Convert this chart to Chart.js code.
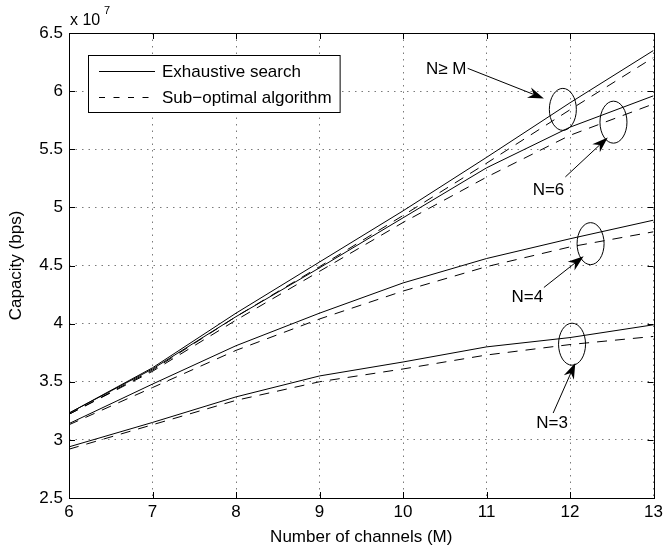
<!DOCTYPE html>
<html>
<head>
<meta charset="utf-8">
<script src="https://cdn.jsdelivr.net/npm/chart.js@4.4.0/dist/chart.umd.min.js"></script>
<style>
  html, body { margin: 0; padding: 0; background: #fff; }
  #wrap { width: 667px; height: 550px; }
</style>
</head>
<body>
<div id="wrap"><canvas id="chart"></canvas></div>
<script>
// === Capacity vs number of channels ===

// values in units of 1e7 bps
const channels = [6, 7, 8, 9, 10, 11, 12, 13];
const exhaustNgeM = [3.23, 3.62, 4.09, 4.53, 4.97, 5.43, 5.90, 6.35];
const suboptNgeM  = [3.22, 3.60, 4.06, 4.49, 4.93, 5.38, 5.84, 6.29];
const exhaustN6   = [3.23, 3.61, 4.06, 4.48, 4.91, 5.34, 5.69, 5.96];
const suboptN6    = [3.22, 3.59, 4.03, 4.45, 4.87, 5.26, 5.62, 5.89];
const exhaustN4   = [3.14, 3.48, 3.81, 4.09, 4.35, 4.56, 4.73, 4.89];
const suboptN4    = [3.13, 3.45, 3.77, 4.04, 4.28, 4.49, 4.66, 4.79];
const exhaustN3   = [2.94, 3.15, 3.37, 3.55, 3.67, 3.80, 3.88, 3.99];
const suboptN3    = [2.92, 3.13, 3.34, 3.50, 3.61, 3.73, 3.82, 3.89];

const xTicks = [6, 7, 8, 9, 10, 11, 12, 13];
const yTicks = [2.5, 3, 3.5, 4, 4.5, 5, 5.5, 6, 6.5];
const legendLabels = ['Exhaustive search', 'Sub\u2212optimal algorithm'];

// callouts, given in data coordinates
const callouts = [
  { text: 'N\u2265 M', at: [10.518, 6.187], ring: [11.914, 5.843], from: [10.774, 6.196], to: [11.687, 5.937] },
  { text: 'N=6', at: [11.742, 5.148], ring: [12.520, 5.733], from: [11.944, 5.262], to: [12.452, 5.602] },
  { text: 'N=4', at: [11.488, 4.230], ring: [12.246, 4.688], from: [11.687, 4.311], to: [12.163, 4.580] },
  { text: 'N=3', at: [11.786, 3.140], ring: [12.024, 3.823], from: [11.798, 3.231], to: [12.063, 3.662] },
];

const FONT = "'Liberation Sans', Arial, Helvetica, sans-serif";
const DASH = [10, 8];

function series(values, dashed) {
  return {
    data: channels.map((m, i) => ({ x: m, y: values[i] })),
    borderColor: '#000',
    borderWidth: 1,
    borderDash: dashed ? DASH : [],
    pointRadius: 0,
    fill: false,
    tension: 0,
  };
}

function arrow(ctx, x0, y0, x1, y1) {
  const ang = Math.atan2(y1 - y0, x1 - x0);
  const len = 16, half = 5.5, notch = 11;
  ctx.beginPath();
  ctx.moveTo(x0, y0);
  ctx.lineTo(x1 - notch * Math.cos(ang), y1 - notch * Math.sin(ang));
  ctx.stroke();
  ctx.save();
  ctx.translate(x1, y1);
  ctx.rotate(ang);
  ctx.beginPath();
  ctx.moveTo(0, 0);
  ctx.lineTo(-len, -half);
  ctx.lineTo(-notch, 0);
  ctx.lineTo(-len, half);
  ctx.closePath();
  ctx.fill();
  ctx.restore();
}

const decorations = {
  id: 'decorations',
  afterDatasetsDraw(chart) {
    const { ctx, chartArea: a, scales: { x, y } } = chart;
    ctx.save();
    ctx.strokeStyle = '#000';
    ctx.fillStyle = '#000';
    ctx.lineWidth = 1;

    // inward tick marks on all four sides
    const tl = 6;
    ctx.beginPath();
    xTicks.forEach(v => {
      const px = Math.round(x.getPixelForValue(v)) + 0.5;
      ctx.moveTo(px, a.bottom); ctx.lineTo(px, a.bottom - tl);
      ctx.moveTo(px, a.top); ctx.lineTo(px, a.top + tl);
    });
    yTicks.forEach(v => {
      const py = Math.round(y.getPixelForValue(v)) + 0.5;
      ctx.moveTo(a.left, py); ctx.lineTo(a.left + tl, py);
      ctx.moveTo(a.right, py); ctx.lineTo(a.right - tl, py);
    });
    ctx.stroke();

    // frame
    ctx.strokeRect(Math.round(a.left) + 0.5, Math.round(a.top) + 0.5,
      Math.round(a.right - a.left), Math.round(a.bottom - a.top));

    // exponent label
    ctx.font = '16px ' + FONT;
    ctx.textBaseline = 'alphabetic';
    ctx.textAlign = 'left';
    ctx.fillText('x 10', 70, 25);
    ctx.font = '11px ' + FONT;
    ctx.fillText('7', 104, 14);

    // callouts
    ctx.font = '17px ' + FONT;
    ctx.textAlign = 'center';
    ctx.textBaseline = 'middle';
    callouts.forEach(c => {
      const cx = x.getPixelForValue(c.ring[0]);
      const cy = y.getPixelForValue(c.ring[1]);
      ctx.beginPath();
      ctx.ellipse(cx, cy, 13.5, 21, 0, 0, Math.PI * 2);
      ctx.stroke();
      arrow(ctx, x.getPixelForValue(c.from[0]), y.getPixelForValue(c.from[1]),
        x.getPixelForValue(c.to[0]), y.getPixelForValue(c.to[1]));
      ctx.fillText(c.text, x.getPixelForValue(c.at[0]), y.getPixelForValue(c.at[1]));
    });

    // legend box
    ctx.font = '17px ' + FONT;
    const bx = 88, by = 55, bh = 57;
    const tx = 162;
    const bw = tx - bx + Math.max(...legendLabels.map(t => ctx.measureText(t).width)) + 8;
    ctx.fillStyle = '#fff';
    ctx.fillRect(bx, by, bw, bh);
    ctx.strokeStyle = '#000';
    ctx.strokeRect(bx + 0.5, by + 0.5, bw, bh);
    ctx.fillStyle = '#000';
    ctx.textAlign = 'left';
    const rows = [71, 97];
    rows.forEach((ry, i) => {
      ctx.beginPath();
      ctx.setLineDash(i === 0 ? [] : [6, 8.5]);
      ctx.moveTo(99, ry + 0.5);
      ctx.lineTo(155, ry + 0.5);
      ctx.stroke();
      ctx.setLineDash([]);
      ctx.fillText(legendLabels[i], tx, ry + 1);
    });

    ctx.restore();
  },
};

new Chart(document.getElementById('chart'), {
  type: 'line',
  data: {
    datasets: [
      series(exhaustNgeM, false), series(suboptNgeM, true),
      series(exhaustN6, false), series(suboptN6, true),
      series(exhaustN4, false), series(suboptN4, true),
      series(exhaustN3, false), series(suboptN3, true),
    ],
  },
  options: {
    responsive: true,
    maintainAspectRatio: false,
    animation: false,
    events: [],
    layout: { padding: { top: 33, right: 10, left: 0, bottom: 0 } },
    plugins: { legend: { display: false }, tooltip: { enabled: false } },
    scales: {
      x: {
        type: 'linear',
        min: 6, max: 13,
        afterBuildTicks: s => { s.ticks = xTicks.map(v => ({ value: v })); },
        afterFit: s => { s.height = 52; },
        grid: { color: '#7a7a7a', lineWidth: 1, drawTicks: false },
        border: { display: false, dash: [1.5, 5] },
        ticks: { color: '#000', padding: 4, font: { family: FONT, size: 17 }, maxRotation: 0 },
        title: {
          display: true, text: 'Number of channels (M)', color: '#000',
          font: { family: FONT, size: 17 }, padding: { top: 0, bottom: 2 },
        },
      },
      y: {
        min: 2.5, max: 6.5,
        afterBuildTicks: s => { s.ticks = yTicks.map(v => ({ value: v })); },
        afterFit: s => { s.width = 69; },
        grid: { color: '#7a7a7a', lineWidth: 1, drawTicks: false },
        border: { display: false, dash: [1.5, 5] },
        ticks: { color: '#000', padding: 6, font: { family: FONT, size: 17 }, callback: v => String(v) },
        title: {
          display: true, text: 'Capacity (bps)', color: '#000',
          font: { family: FONT, size: 17 }, padding: { top: 6, bottom: 0 },
        },
      },
    },
  },
  plugins: [decorations],
});
</script>
</body>
</html>
